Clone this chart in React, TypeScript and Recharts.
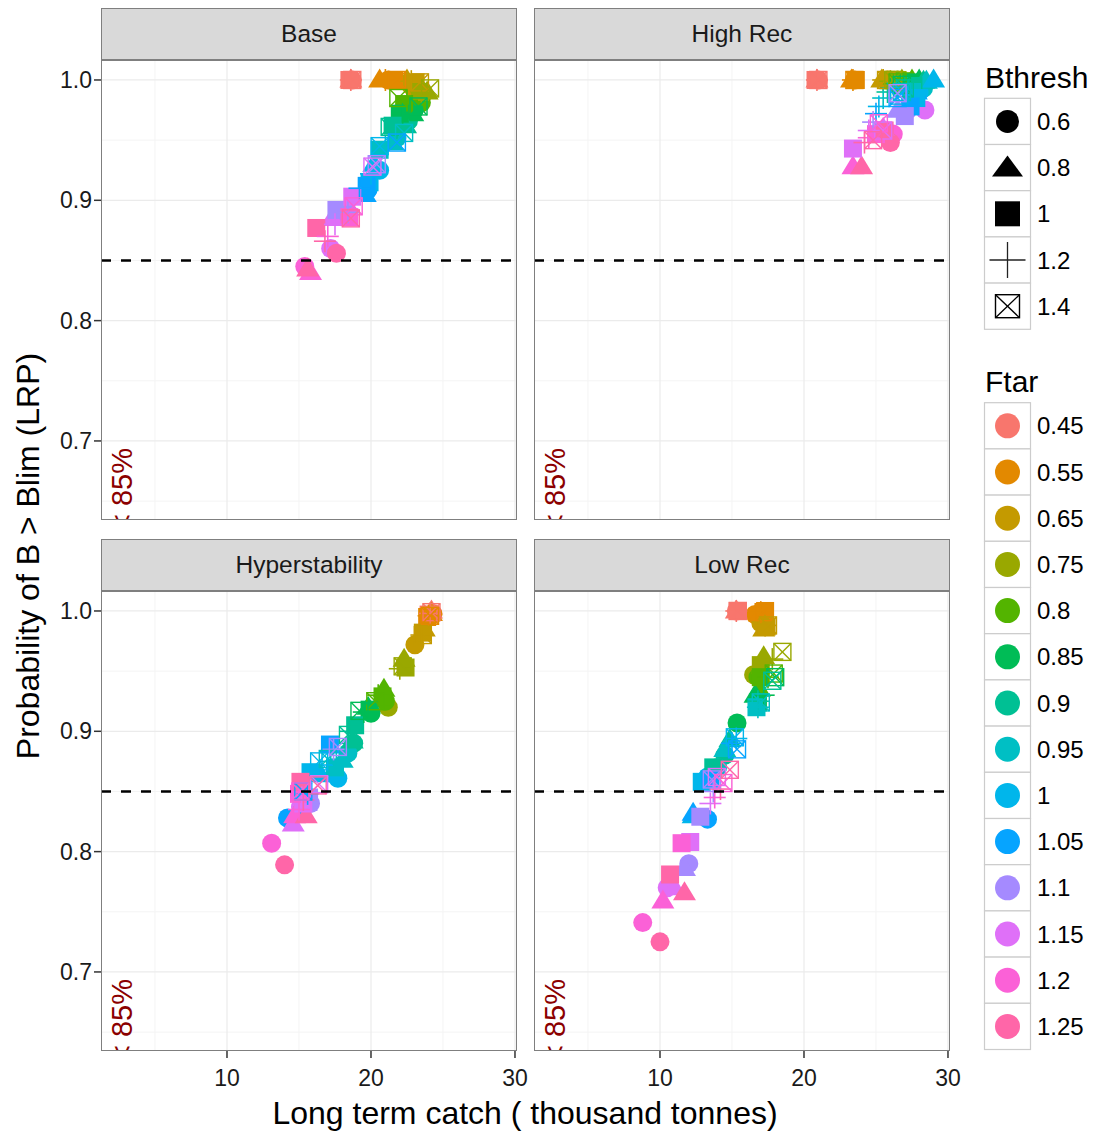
import React from 'react';
import { ScatterChart, Scatter, XAxis, YAxis, ReferenceLine, ReferenceDot } from 'recharts';

// factor levels
const bthreshLevels = ['0.6', '0.8', '1', '1.2', '1.4'];
const ftarLevels = ['0.45', '0.55', '0.65', '0.75', '0.8', '0.85', '0.9', '0.95', '1', '1.05', '1.1', '1.15', '1.2', '1.25'];
const ftarColors = ['#F8766D', '#E38900', '#C49A00', '#99A800', '#53B400', '#00BC56', '#00C094', '#00BFC4', '#00B6EB', '#06A4FF', '#A58AFF', '#DF70F8', '#FB61D7', '#FF66A8'];

// rows = Ftar, columns = Bthresh (0.6, 0.8, 1, 1.2, 1.4)
const baseCatch = [
  [18.7, 18.6, 18.5, 18.6, 18.7],
  [21.2, 20.6, 21.6, 21.0, 21.8],
  [22.8, 22.5, 23.1, 22.8, 23.4],
  [23.6, 23.9, 23.4, 23.5, 24.1],
  [23.5, 23.3, 22.3, 22.5, 21.9],
  [23.0, 22.9, 22.0, 22.2, 23.3],
  [22.6, 22.4, 21.5, 21.8, 21.3],
  [21.8, 21.5, 20.6, 21.0, 22.3],
  [20.6, 20.2, 19.9, 20.0, 20.6],
  [19.8, 19.6, 19.7, 19.2, 21.8],
  [18.4, 17.6, 17.6, 18.4, 20.4],
  [17.2, 17.3, 18.7, 17.5, 20.1],
  [15.4, 15.8, 18.5, 17.0, 18.8],
  [17.6, 15.6, 16.2, 16.8, 18.6],
];
const baseProb = [
  [1.0, 1.0, 1.0, 1.0, 1.0],
  [1.0, 1.0, 1.0, 1.0, 1.0],
  [0.995, 1.0, 0.998, 0.999, 0.998],
  [0.988, 0.99, 0.99, 0.99, 0.993],
  [0.981, 0.985, 0.98, 0.983, 0.985],
  [0.975, 0.972, 0.972, 0.972, 0.978],
  [0.966, 0.962, 0.962, 0.96, 0.961],
  [0.952, 0.948, 0.942, 0.945, 0.956],
  [0.925, 0.93, 0.915, 0.922, 0.945],
  [0.909, 0.905, 0.912, 0.91, 0.948],
  [0.89, 0.885, 0.892, 0.89, 0.93],
  [0.86, 0.885, 0.903, 0.88, 0.928],
  [0.845, 0.84, 0.886, 0.87, 0.895],
  [0.856, 0.843, 0.877, 0.866, 0.885],
];

const highCatch = [
  [21.0, 20.9, 20.8, 20.9, 21.0],
  [23.5, 23.3, 23.6, 23.4, 23.5],
  [25.8, 25.4, 25.9, 25.5, 25.7],
  [26.5, 26.8, 26.5, 26.0, 26.2],
  [27.2, 27.5, 27.0, 26.2, 26.5],
  [27.8, 28.0, 27.3, 26.0, 26.8],
  [28.0, 28.3, 27.6, 25.8, 27.0],
  [28.3, 28.5, 27.5, 25.5, 26.8],
  [28.0, 29.0, 27.8, 25.2, 26.6],
  [27.4, 27.8, 27.4, 25.0, 26.5],
  [27.2, 26.5, 27.0, 24.8, 26.5],
  [28.4, 25.5, 23.4, 24.5, 25.5],
  [26.2, 23.4, 25.0, 24.5, 25.2],
  [26.0, 24.0, 25.6, 24.2, 24.8],
];
const highProb = [
  [1.0, 1.0, 1.0, 1.0, 1.0],
  [1.0, 1.0, 1.0, 1.0, 1.0],
  [1.0, 1.0, 1.0, 1.0, 1.0],
  [1.0, 1.0, 1.0, 0.999, 1.0],
  [0.998, 1.0, 0.999, 0.997, 0.998],
  [0.997, 1.0, 0.998, 0.993, 0.996],
  [0.995, 0.999, 0.995, 0.99, 0.993],
  [0.993, 0.999, 0.99, 0.985, 0.99],
  [0.99, 1.0, 0.985, 0.978, 0.987],
  [0.985, 0.99, 0.978, 0.972, 0.985],
  [0.975, 0.975, 0.97, 0.965, 0.989],
  [0.975, 0.96, 0.943, 0.958, 0.958],
  [0.955, 0.928, 0.955, 0.952, 0.964],
  [0.948, 0.928, 0.958, 0.948, 0.95],
];

const hyperCatch = [
  [24.3, 24.2, 24.0, 24.1, 24.2],
  [24.3, 24.2, 23.9, 24.0, 24.1],
  [23.05, 23.7, 23.6, 23.5, 23.6],
  [21.2, 22.3, 22.4, 22.0, 22.2],
  [21.0, 20.9, 20.8, 20.5, 20.3],
  [20.0, 19.8, 19.9, 19.5, 19.2],
  [18.8, 18.7, 18.9, 18.6, 18.4],
  [18.4, 18.0, 17.5, 17.2, 17.0],
  [17.7, 16.5, 15.8, 16.6, 16.4],
  [14.2, 15.0, 17.15, 15.6, 15.3],
  [15.8, 15.5, 15.7, 17.4, 17.7],
  [15.1, 14.6, 15.3, 15.2, 16.4],
  [13.1, 14.7, 15.0, 15.0, 15.1],
  [14.0, 15.5, 15.1, 15.3, 16.3],
];
const hyperProb = [
  [0.998, 1.0, 0.997, 0.998, 0.999],
  [0.997, 0.998, 0.995, 0.996, 0.996],
  [0.972, 0.985, 0.982, 0.98, 0.98],
  [0.92, 0.96, 0.953, 0.952, 0.954],
  [0.925, 0.935, 0.929, 0.93, 0.925],
  [0.915, 0.92, 0.918, 0.916, 0.917],
  [0.89, 0.892, 0.905, 0.9, 0.897],
  [0.882, 0.876, 0.87, 0.875, 0.877],
  [0.861, 0.864, 0.866, 0.872, 0.875],
  [0.828, 0.835, 0.889, 0.848, 0.85],
  [0.84, 0.84, 0.845, 0.885, 0.887],
  [0.837, 0.823, 0.84, 0.845, 0.856],
  [0.807, 0.83, 0.848, 0.835, 0.85],
  [0.789, 0.83, 0.858, 0.843, 0.855],
];

const lowCatch = [
  [15.3, 15.3, 15.4, 15.3, 15.4],
  [16.6, 17.0, 17.3, 17.0, 17.2],
  [17.0, 17.2, 17.4, 17.3, 17.5],
  [16.5, 17.2, 17.0, 17.8, 18.5],
  [16.8, 16.9, 17.0, 17.5, 17.9],
  [15.35, 16.6, 16.8, 17.2, 18.0],
  [14.5, 14.85, 13.7, 16.8, 17.8],
  [14.0, 14.5, 16.7, 16.8, 17.0],
  [13.3, 12.3, 12.9, 15.3, 15.2],
  [13.3, 12.3, 13.5, 15.0, 15.35],
  [12.0, 11.7, 12.8, 13.7, 13.6],
  [10.5, 11.0, 12.1, 13.5, 13.95],
  [8.8, 10.2, 11.5, 13.8, 14.4],
  [10.0, 11.7, 10.7, 14.2, 14.85],
];
const lowProb = [
  [1.0, 1.0, 1.0, 1.0, 1.0],
  [0.997, 0.998, 1.0, 0.999, 0.999],
  [0.99, 0.985, 0.987, 0.988, 0.988],
  [0.947, 0.962, 0.955, 0.96, 0.966],
  [0.945, 0.935, 0.945, 0.945, 0.948],
  [0.907, 0.93, 0.924, 0.93, 0.945],
  [0.88, 0.893, 0.87, 0.925, 0.942],
  [0.87, 0.885, 0.92, 0.92, 0.924],
  [0.862, 0.83, 0.858, 0.894, 0.895],
  [0.827, 0.832, 0.86, 0.89, 0.885],
  [0.79, 0.786, 0.829, 0.85, 0.86],
  [0.77, 0.77, 0.808, 0.84, 0.862],
  [0.741, 0.759, 0.807, 0.845, 0.857],
  [0.725, 0.766, 0.781, 0.852, 0.868],
];

const xTicks = [10, 20, 30];
const yTicks = [0.7, 0.8, 0.9, 1.0];
const xMinor = [5, 15, 25];
const yMinor = [0.65, 0.75, 0.85, 0.95];
const X_DOMAIN: [number, number] = [1.25, 30.14];
const Y_DOMAIN: [number, number] = [0.6343, 1.0166];
const threshold = 0.85;

const PW = 416;
const PH = 460;
const FONT = '"Liberation Sans", Arial, Helvetica, sans-serif';

const buildPoints = (catchRows: number[][], probRows: number[][]) => {
  const pts: any[] = [];
  // ggplot draws rows in data order: Ftar varies fastest inside Bthresh
  bthreshLevels.forEach((_, b) => {
    ftarLevels.forEach((_, f) => {
      pts.push({ catch: catchRows[f][b], prob: probRows[f][b], bt: b, color: ftarColors[f] });
    });
  });
  return pts;
};

const Marker = ({ kind, cx, cy, color }: { kind: number; cx: number; cy: number; color: string }) => {
  if (kind === 0) return <circle cx={cx} cy={cy} r={9.5} fill={color} />;
  if (kind === 1) {
    const w = 23, h = 19;
    return <polygon points={`${cx},${cy - h * 0.6} ${cx - w / 2},${cy + h * 0.4} ${cx + w / 2},${cy + h * 0.4}`} fill={color} />;
  }
  if (kind === 2) return <rect x={cx - 9} y={cy - 9} width={18} height={18} fill={color} />;
  if (kind === 3) {
    const s = 11;
    return (
      <g stroke={color} strokeWidth={1.6}>
        <line x1={cx - s} y1={cy} x2={cx + s} y2={cy} />
        <line x1={cx} y1={cy - s} x2={cx} y2={cy + s} />
      </g>
    );
  }
  const s = 8.5;
  return (
    <g stroke={color} strokeWidth={1.4} fill="none">
      <rect x={cx - s} y={cy - s} width={2 * s} height={2 * s} />
      <line x1={cx - s} y1={cy - s} x2={cx + s} y2={cy + s} />
      <line x1={cx - s} y1={cy + s} x2={cx + s} y2={cy - s} />
    </g>
  );
};

const LegendShape = ({ kind, cx, cy }: { kind: number; cx: number; cy: number }) => {
  if (kind === 0) return <circle cx={cx} cy={cy} r={11.5} fill="#000" />;
  if (kind === 1) return <polygon points={`${cx},${cy - 12} ${cx - 15.5},${cy + 9} ${cx + 15.5},${cy + 9}`} fill="#000" />;
  if (kind === 2) return <rect x={cx - 12.5} y={cy - 12.5} width={25} height={25} fill="#000" />;
  if (kind === 3) {
    return (
      <g stroke="#222" strokeWidth={1.3}>
        <line x1={cx - 18} y1={cy} x2={cx + 18} y2={cy} />
        <line x1={cx} y1={cy - 18} x2={cx} y2={cy + 18} />
      </g>
    );
  }
  return (
    <g stroke="#000" strokeWidth={1.4} fill="none">
      <rect x={cx - 12} y={cy - 11.5} width={24} height={23} />
      <line x1={cx - 12} y1={cy - 11.5} x2={cx + 12} y2={cy + 11.5} />
      <line x1={cx - 12} y1={cy + 11.5} x2={cx + 12} y2={cy - 11.5} />
    </g>
  );
};

interface PanelProps {
  id: string;
  title: string;
  points: any[];
  left: number;
  top: number;
  showX: boolean;
  showY: boolean;
}

const Panel = ({ id, title, points, left, top, showX, showY }: PanelProps) => {
  const yAxisW = showY ? 90 : 0;
  const xAxisH = showX ? 48 : 0;
  const padR = 24; // room for the last tick label

  const renderNote = (p: any) => (
    <g clipPath={`url(#clip-${id})`}>
      <defs>
        <clipPath id={`clip-${id}`}>
          <rect x={p.cx - 40} y={p.cy - PH} width={80} height={PH} />
        </clipPath>
      </defs>
      <text transform={`translate(${p.cx},${p.cy + 11}) rotate(-90)`} fontSize={29} fill="#8B0000">
        {'< 85%'}
      </text>
    </g>
  );

  return (
    <>
      <div
        style={{
          position: 'absolute', left, top: top - 52, width: PW, height: 52, boxSizing: 'border-box',
          background: '#D9D9D9', border: '1px solid #7F7F7F', display: 'flex', alignItems: 'center',
          justifyContent: 'center', fontSize: 24.5, color: '#1A1A1A',
        }}
      >
        {title}
      </div>
      <div style={{ position: 'absolute', left: left - yAxisW, top }}>
        <ScatterChart width={PW + yAxisW + padR} height={PH + xAxisH} margin={{ top: 0, right: padR, bottom: 0, left: 0 }}>
          <XAxis
            type="number" dataKey="catch" domain={X_DOMAIN} allowDataOverflow ticks={xTicks} interval={0}
            hide={!showX} height={xAxisH} axisLine={false} tickSize={7} tickMargin={12}
            tickLine={{ stroke: '#333', strokeWidth: 1.5 }} tick={{ fontSize: 23, fill: '#1A1A1A' }}
          />
          <YAxis
            type="number" dataKey="prob" domain={Y_DOMAIN} allowDataOverflow ticks={yTicks} interval={0}
            hide={!showY} width={yAxisW} axisLine={false} tickSize={7} tickMargin={2}
            tickLine={{ stroke: '#333', strokeWidth: 1.5 }} tick={{ fontSize: 23, fill: '#1A1A1A' }}
            tickFormatter={(v: number) => v.toFixed(1)}
          />
          {xMinor.map((v) => <ReferenceLine key={`xm${v}`} x={v} stroke="#F4F4F4" strokeWidth={1} />)}
          {yMinor.map((v) => <ReferenceLine key={`ym${v}`} y={v} stroke="#F4F4F4" strokeWidth={1} />)}
          {xTicks.map((v) => <ReferenceLine key={`xM${v}`} x={v} stroke="#EBEBEB" strokeWidth={1.2} />)}
          {yTicks.map((v) => <ReferenceLine key={`yM${v}`} y={v} stroke="#EBEBEB" strokeWidth={1.2} />)}
          <Scatter
            data={points}
            isAnimationActive={false}
            shape={(p: any) => <Marker kind={p.payload.bt} cx={p.cx} cy={p.cy} color={p.payload.color} />}
          />
          <ReferenceLine y={threshold} stroke="#000" strokeWidth={2.5} strokeDasharray="10 10" zIndex={700} />
          <ReferenceDot x={3.4} y={Y_DOMAIN[0]} ifOverflow="visible" shape={renderNote} zIndex={700} />
        </ScatterChart>
      </div>
      <div
        style={{
          position: 'absolute', left, top, width: PW, height: PH, boxSizing: 'border-box',
          border: '1px solid #7F7F7F', pointerEvents: 'none',
        }}
      />
    </>
  );
};

const App = () => {
  const keyH = 46.2;
  const btTop = 98.3;
  const ftTop = 402.7;
  return (
    <div style={{ position: 'absolute', left: 0, top: 0, width: 1100, height: 1131, background: '#fff', fontFamily: FONT }}>
      <svg width={1100} height={1131} style={{ position: 'absolute', left: 0, top: 0 }} fontFamily={FONT}>
        <text transform="translate(39,556) rotate(-90)" textAnchor="middle" fontSize={32} fill="#000">
          {'Probability of B > Blim (LRP)'}
        </text>
        <text x={525} y={1124} textAnchor="middle" fontSize={32} fill="#000">
          Long term catch ( thousand tonnes)
        </text>

        <text x={985} y={88} fontSize={30} fill="#000">Bthresh</text>
        {bthreshLevels.map((lab, i) => {
          const y0 = btTop + i * keyH;
          return (
            <g key={lab}>
              <rect x={984.5} y={y0} width={46} height={keyH} fill="#fff" stroke="#CCCCCC" strokeWidth={1.2} />
              <LegendShape kind={i} cx={1007.5} cy={y0 + keyH / 2} />
              <text x={1037} y={y0 + keyH / 2 + 8.5} fontSize={24} fill="#000">{lab}</text>
            </g>
          );
        })}

        <text x={985} y={392} fontSize={30} fill="#000">Ftar</text>
        {ftarLevels.map((lab, i) => {
          const y0 = ftTop + i * keyH;
          return (
            <g key={lab}>
              <rect x={984.5} y={y0} width={46} height={keyH} fill="#fff" stroke="#CCCCCC" strokeWidth={1.2} />
              <circle cx={1007.5} cy={y0 + keyH / 2} r={12.5} fill={ftarColors[i]} />
              <text x={1037} y={y0 + keyH / 2 + 8.5} fontSize={24} fill="#000">{lab}</text>
            </g>
          );
        })}
      </svg>

      <Panel id="base" title="Base" points={buildPoints(baseCatch, baseProb)} left={101} top={60} showX={false} showY />
      <Panel id="high" title="High Rec" points={buildPoints(highCatch, highProb)} left={534} top={60} showX={false} showY={false} />
      <Panel id="hyper" title="Hyperstability" points={buildPoints(hyperCatch, hyperProb)} left={101} top={591} showX showY />
      <Panel id="low" title="Low Rec" points={buildPoints(lowCatch, lowProb)} left={534} top={591} showX showY={false} />
    </div>
  );
};

export default App;
